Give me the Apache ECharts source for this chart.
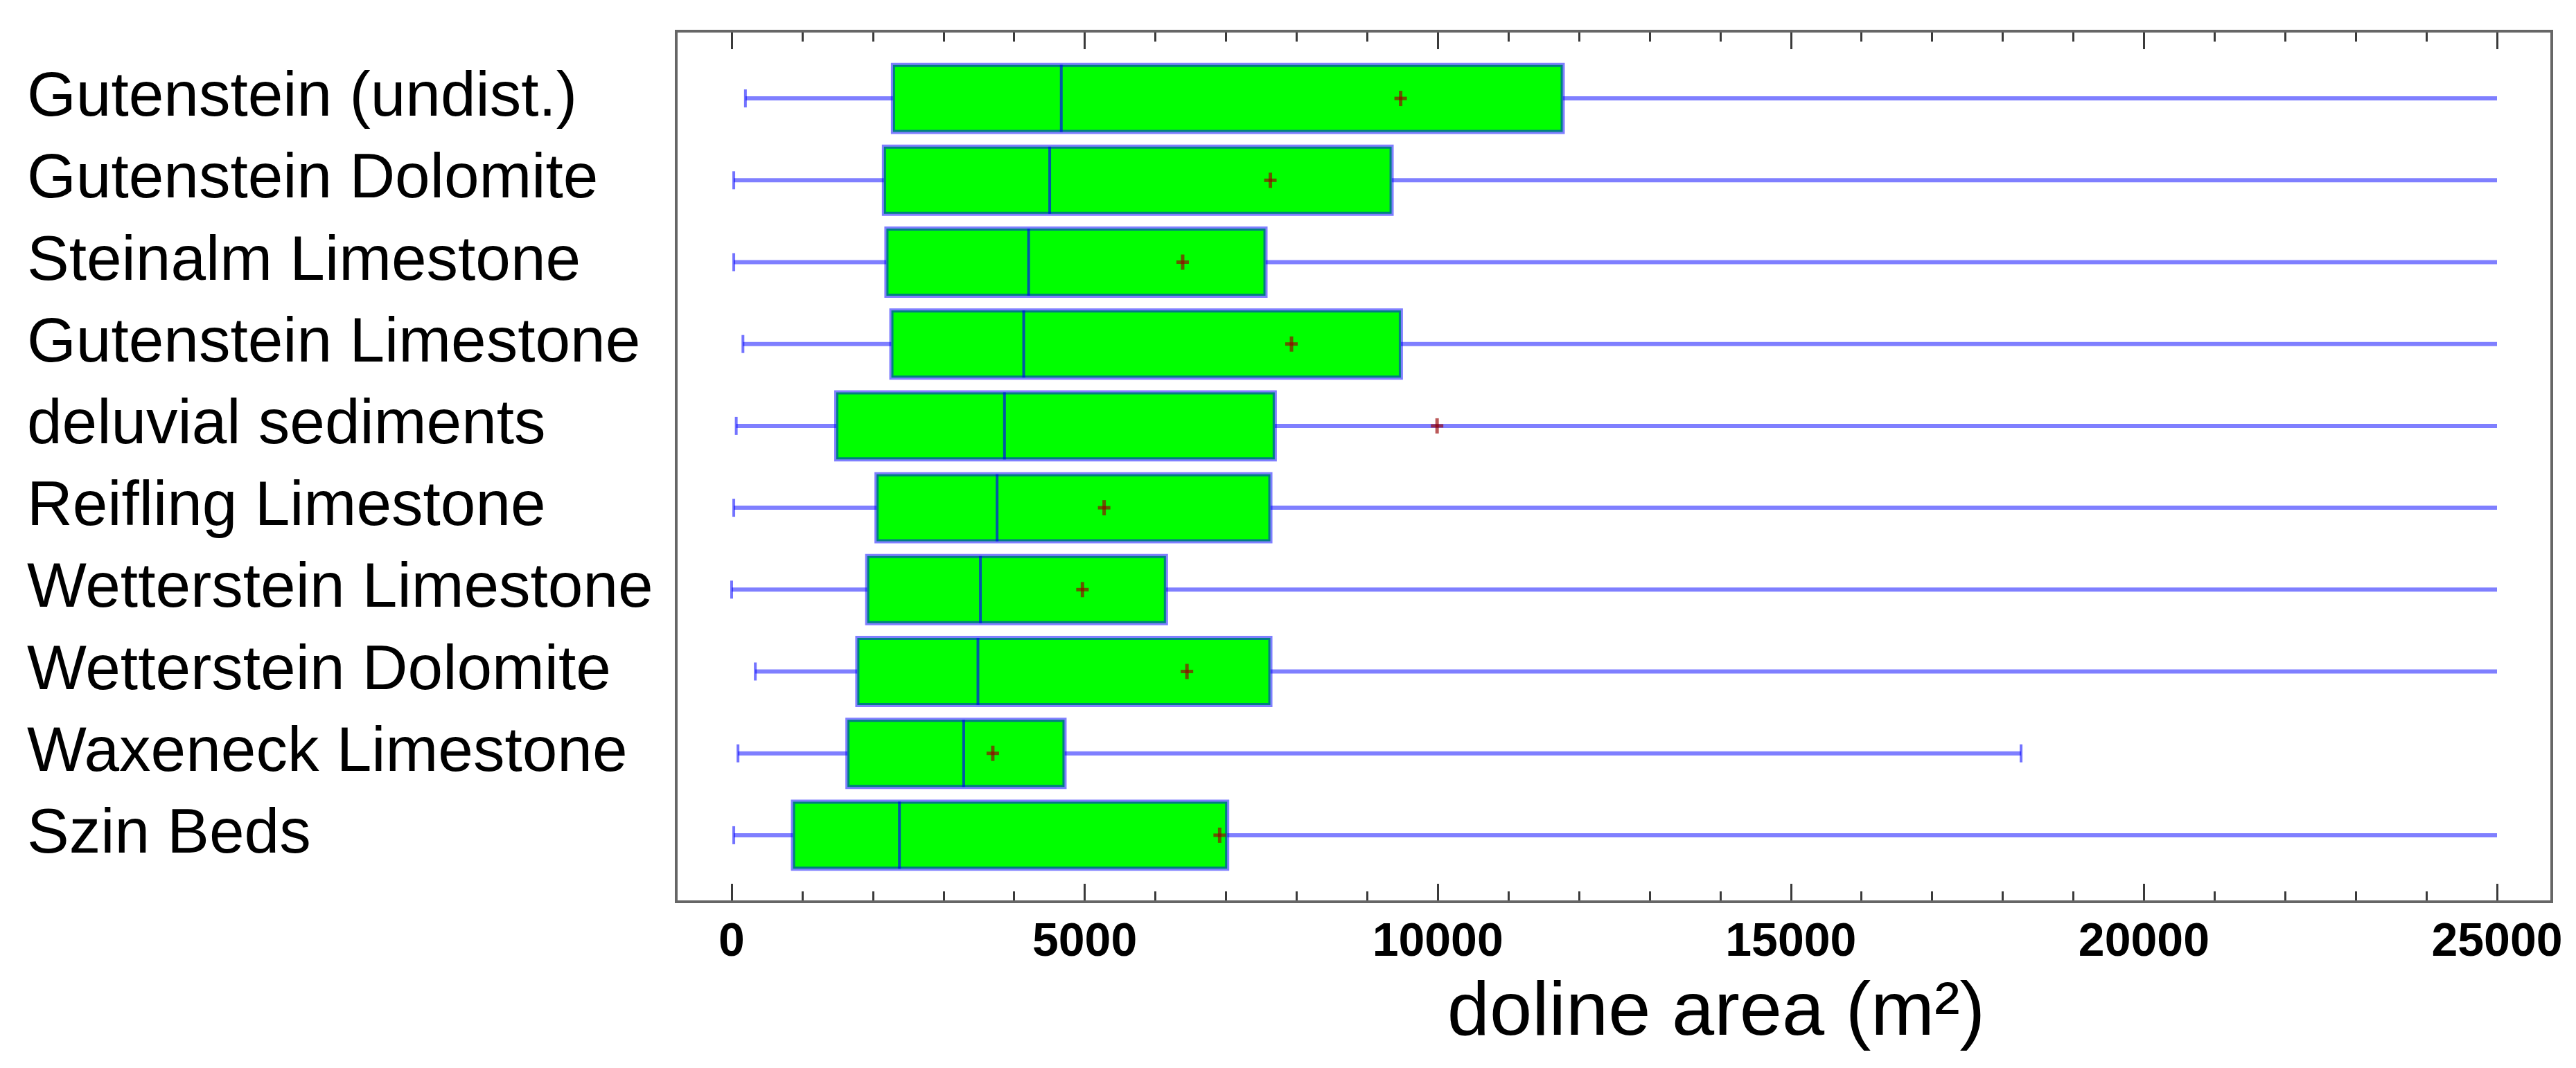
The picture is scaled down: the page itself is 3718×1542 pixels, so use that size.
<!DOCTYPE html>
<html>
<head>
<meta charset="utf-8">
<script src="https://cdn.jsdelivr.net/npm/echarts@6/dist/echarts.min.js"></script>
<style>
html,body{margin:0;padding:0;background:#fff;}
#chart{width:3718px;height:1542px;}
</style>
</head>
<body>
<div id="chart"></div>
<script>
// ---- data ----
const categories = [
  'Gutenstein (undist.)',
  'Gutenstein Dolomite',
  'Steinalm Limestone',
  'Gutenstein Limestone',
  'deluvial sediments',
  'Reifling Limestone',
  'Wetterstein Limestone',
  'Wetterstein Dolomite',
  'Waxeneck Limestone',
  'Szin Beds'
];
const whiskerLow  = [195,   30,   30,  160,   65,   30,    0,  335,   90,   30];
const q1          = [2285, 2157, 2192, 2262, 1482, 2052, 1920, 1780, 1640,  869];
const median      = [4668, 4504, 4205, 4136, 3864, 3759, 3523, 3488, 3286, 2376];
const q3          = [11769, 9346, 7560, 9477, 7691, 7629, 6150, 7629, 4714, 7017];
const whiskerHigh = [25000, 25000, 25000, 25000, 25000, 25000, 25000, 25000, 18260, 25000];
const mean        = [9474, 7629, 6387, 7928, 9990, 5275, 4968, 6448, 3698, 6911];

const xMin = 0, xMax = 25000, xInterval = 5000;
const axisTitle = 'doline area (m²)';

const seriesData = categories.map((c, i) =>
  [i, whiskerLow[i], q1[i], median[i], q3[i], whiskerHigh[i], mean[i]]);

function renderItem(params, api) {
  const idx = api.value(0);
  const lo = api.value(1), a = api.value(2), m = api.value(3),
        b = api.value(4), hi = api.value(5), mu = api.value(6);
  const y = api.coord([xMin, idx])[1];
  const band = api.size([0, 1])[1];
  const h = band * 0.82;
  const px = v => api.coord([v, idx])[0];
  const whiskerStyle = {stroke: 'rgba(0,0,255,0.5)', lineWidth: 6};
  const capStyle = {stroke: 'rgba(0,0,255,0.55)', lineWidth: 4};
  const ch = [];
  ch.push({type: 'line', shape: {x1: px(lo), y1: y, x2: px(a), y2: y}, style: whiskerStyle});
  ch.push({type: 'line', shape: {x1: px(b), y1: y, x2: px(hi), y2: y}, style: whiskerStyle});
  ch.push({type: 'line', shape: {x1: px(lo), y1: y - 13, x2: px(lo), y2: y + 13}, style: capStyle});
  if (hi < xMax) {
    ch.push({type: 'line', shape: {x1: px(hi), y1: y - 13, x2: px(hi), y2: y + 13}, style: capStyle});
  }
  ch.push({type: 'rect', shape: {x: px(a), y: y - h / 2, width: px(b) - px(a), height: h},
           style: {fill: '#00ff00', stroke: 'rgba(0,0,255,0.5)', lineWidth: 6}});
  ch.push({type: 'line', shape: {x1: px(m), y1: y - h / 2, x2: px(m), y2: y + h / 2},
           style: {stroke: 'rgba(0,0,255,0.65)', lineWidth: 4}});
  const mx = px(mu);
  ch.push({type: 'line', shape: {x1: mx - 9, y1: y, x2: mx + 9, y2: y},
           style: {stroke: 'rgba(150,0,0,0.65)', lineWidth: 5}});
  ch.push({type: 'line', shape: {x1: mx, y1: y - 11, x2: mx, y2: y + 11},
           style: {stroke: 'rgba(150,0,0,0.65)', lineWidth: 5}});
  return {type: 'group', children: ch};
}

const tickCommon = {
  axisLine: {show: false},
  axisTick: {show: true, inside: true, length: 26, lineStyle: {color: '#3a3a3a', width: 3}},
  minorTick: {show: true, splitNumber: 5, length: 15, lineStyle: {color: '#3a3a3a', width: 3}},
  splitLine: {show: false},
  minorSplitLine: {show: false}
};

const chart = echarts.init(document.getElementById('chart'), null, {renderer: 'canvas'});
chart.setOption({
  animation: false,
  backgroundColor: '#ffffff',
  grid: {left: 1056, top: 83, width: 2548, height: 1182, containLabel: false},
  graphic: [{
    type: 'rect',
    shape: {x: 976, y: 45, width: 2707, height: 1257},
    style: {fill: 'none', stroke: '#666666', lineWidth: 4},
    z: 100
  }],
  xAxis: [
    Object.assign({
      type: 'value', position: 'bottom', min: xMin, max: xMax, interval: xInterval, offset: 37,
      axisLabel: {margin: 25, fontSize: 68, fontWeight: 'bold', color: '#000',
                  fontFamily: 'Liberation Sans, Arial, sans-serif', formatter: v => String(v)},
      name: axisTitle, nameLocation: 'middle', nameGap: 107,
      nameTextStyle: {fontSize: 110, color: '#000', fontFamily: 'Liberation Sans, Arial, sans-serif',
                      padding: [0, 0, 0, 294]}
    }, tickCommon),
    Object.assign({
      type: 'value', position: 'top', min: xMin, max: xMax, interval: xInterval, offset: 38,
      axisLabel: {show: false}
    }, tickCommon)
  ],
  yAxis: {
    type: 'category', data: categories, inverse: true,
    axisLine: {show: false}, axisTick: {show: false}, splitLine: {show: false},
    axisLabel: {interval: 0, align: 'left', margin: 1017, fontSize: 91, color: '#000',
                fontFamily: 'Liberation Sans, Arial, sans-serif',
                padding: [0, 0, 32, 0]}
  },
  series: [{
    type: 'custom',
    xAxisIndex: 0,
    yAxisIndex: 0,
    renderItem: renderItem,
    encode: {x: [1, 2, 3, 4, 5, 6], y: 0},
    data: seriesData
  }]
});
</script>
</body>
</html>
